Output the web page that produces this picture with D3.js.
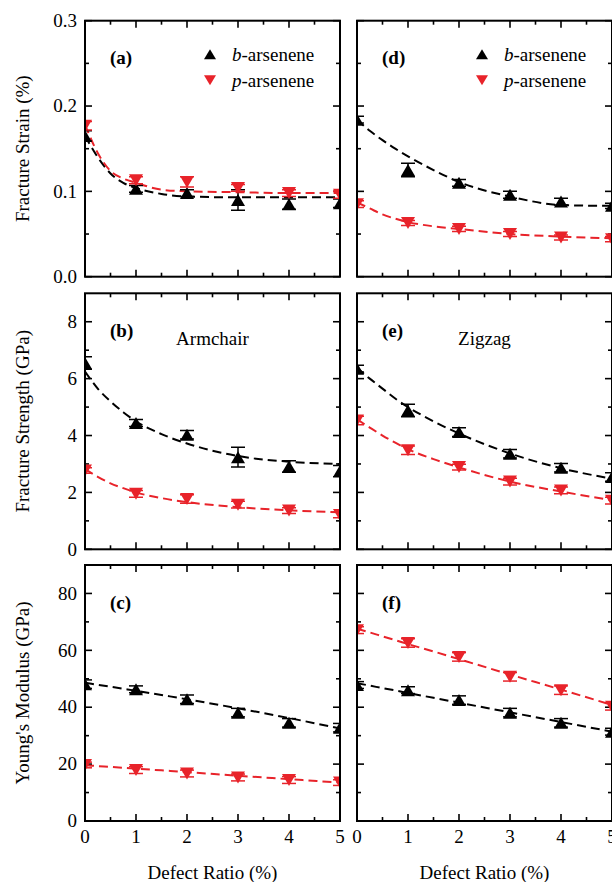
<!DOCTYPE html>
<html>
<head>
<meta charset="utf-8">
<script src="https://cdn.jsdelivr.net/npm/d3@7"></script>
<style>
  body { margin: 0; background: #fff; }
  svg { display: block; font-family: "Liberation Serif", "Times New Roman", serif; }
</style>
</head>
<body>
<div id="chart"></div>
<script>
// ---- data ----
const defectRatio = [0, 1, 2, 3, 4, 5];
const fitRatio = [0, 0.25, 0.5, 0.75, 1, 1.5, 2, 3, 4, 5];

// (a) fracture strain, armchair
const strainArmB = [0.165, 0.103, 0.098, 0.090, 0.085, 0.086];
const strainArmBErr = [0.006, 0.004, 0.004, 0.012, 0.006, 0.005];
const strainArmP = [0.177, 0.113, 0.111, 0.104, 0.098, 0.096];
const strainArmPErr = [0.005, 0.004, 0.006, 0.004, 0.004, 0.004];
const strainArmBFit = [0.165, 0.140, 0.121, 0.110, 0.104, 0.097, 0.094, 0.093, 0.093, 0.093];
const strainArmPFit = [0.178, 0.145, 0.124, 0.115, 0.110, 0.102, 0.100, 0.099, 0.098, 0.098];

// (d) fracture strain, zigzag
const strainZigB = [0.184, 0.125, 0.110, 0.096, 0.088, 0.083];
const strainZigBErr = [0.004, 0.008, 0.004, 0.004, 0.004, 0.003];
const strainZigP = [0.085, 0.063, 0.056, 0.050, 0.046, 0.044];
const strainZigPErr = [0.004, 0.003, 0.003, 0.003, 0.003, 0.003];
const strainZigBFit = [0.184, 0.171, 0.160, 0.150, 0.141, 0.125, 0.111, 0.094, 0.084, 0.083];
const strainZigPFit = [0.087, 0.080, 0.073, 0.068, 0.064, 0.059, 0.056, 0.050, 0.047, 0.045];

// (b) fracture strength, armchair
const strengthArmB = [6.55, 4.44, 4.03, 3.24, 2.91, 2.75];
const strengthArmBErr = [0.22, 0.12, 0.15, 0.35, 0.2, 0.2];
const strengthArmP = [2.77, 1.95, 1.77, 1.57, 1.36, 1.21];
const strengthArmPErr = [0.1, 0.12, 0.15, 0.12, 0.1, 0.1];
const strengthArmBFit = [6.25, 5.65, 5.2, 4.82, 4.5, 4.05, 3.72, 3.28, 3.08, 3.0];
const strengthArmPFit = [2.82, 2.55, 2.32, 2.15, 2.0, 1.8, 1.66, 1.48, 1.37, 1.3];

// (e) fracture strength, zigzag
const strengthZigB = [6.35, 4.88, 4.12, 3.36, 2.87, 2.54];
const strengthZigBErr = [0.12, 0.22, 0.15, 0.15, 0.15, 0.15];
const strengthZigP = [4.53, 3.48, 2.89, 2.38, 2.07, 1.71];
const strengthZigPErr = [0.15, 0.15, 0.1, 0.12, 0.12, 0.12];
const strengthZigBFit = [6.38, 6.0, 5.65, 5.3, 5.0, 4.5, 4.07, 3.37, 2.85, 2.48];
const strengthZigPFit = [4.57, 4.28, 4.0, 3.75, 3.52, 3.17, 2.88, 2.38, 2.03, 1.73];

// (c) Young's modulus, armchair
const modulusArmB = [48.1, 46.3, 42.8, 38.1, 34.5, 32.8];
const modulusArmBErr = [1.5, 1.2, 1.5, 1.5, 1.5, 1.5];
const modulusArmP = [19.7, 17.9, 16.7, 15.3, 14.4, 13.5];
const modulusArmPErr = [1.0, 1.2, 1.2, 1.2, 1.2, 1.0];
const modulusArmBFit = [48.6, 47.9, 47.2, 46.5, 45.8, 44.3, 42.8, 39.6, 36.2, 32.5];
const modulusArmPFit = [19.6, 19.3, 19.0, 18.7, 18.4, 17.8, 17.2, 15.9, 14.7, 13.5];

// (f) Young's modulus, zigzag
const modulusZigB = [47.8, 46.0, 42.5, 38.1, 34.5, 31.4];
const modulusZigBErr = [1.2, 1.2, 1.5, 1.5, 1.5, 1.2];
const modulusZigP = [67.1, 62.6, 57.7, 50.7, 46.0, 40.2];
const modulusZigPErr = [1.2, 1.5, 1.5, 1.5, 1.5, 1.2];
const modulusZigBFit = [48.4, 47.6, 46.7, 45.9, 45.0, 43.3, 41.6, 38.2, 34.8, 31.4];
const modulusZigPFit = [67.6, 66.3, 64.9, 63.6, 62.2, 59.6, 56.9, 51.5, 46.2, 40.8];

const xTicks = [0, 1, 2, 3, 4, 5];
const strainTicks = [0, 0.1, 0.2, 0.3];
const strengthTicks = [0, 2, 4, 6, 8];
const modulusTicks = [0, 20, 40, 60, 80];

const seriesNames = ["b", "p"];

// ---- layout ----
const W = 612, H = 882;
const colX = [85, 357];
const colW = 255;
const rowY = [20.7, 293.3, 565];
const rowH = 256;
const black = "#000", red = "#e8232a";

const rows = [
  { title: "Fracture Strain (%)", domain: [0, 0.3], ticks: strainTicks, minor: 0.05, fmt: d3.format(".1f"),
    panels: [
      { label: "(a)", b: strainArmB, bErr: strainArmBErr, p: strainArmP, pErr: strainArmPErr, bFit: strainArmBFit, pFit: strainArmPFit, legend: true },
      { label: "(d)", b: strainZigB, bErr: strainZigBErr, p: strainZigP, pErr: strainZigPErr, bFit: strainZigBFit, pFit: strainZigPFit, legend: true }
    ] },
  { title: "Fracture Strength (GPa)", domain: [0, 9], ticks: strengthTicks, minor: 1, fmt: d3.format("d"),
    panels: [
      { label: "(b)", note: "Armchair", b: strengthArmB, bErr: strengthArmBErr, p: strengthArmP, pErr: strengthArmPErr, bFit: strengthArmBFit, pFit: strengthArmPFit },
      { label: "(e)", note: "Zigzag", b: strengthZigB, bErr: strengthZigBErr, p: strengthZigP, pErr: strengthZigPErr, bFit: strengthZigBFit, pFit: strengthZigPFit }
    ] },
  { title: "Young's Modulus (GPa)", domain: [0, 90], ticks: modulusTicks, minor: 10, fmt: d3.format("d"),
    panels: [
      { label: "(c)", b: modulusArmB, bErr: modulusArmBErr, p: modulusArmP, pErr: modulusArmPErr, bFit: modulusArmBFit, pFit: modulusArmPFit },
      { label: "(f)", b: modulusZigB, bErr: modulusZigBErr, p: modulusZigP, pErr: modulusZigPErr, bFit: modulusZigBFit, pFit: modulusZigPFit }
    ] }
];

const svg = d3.select("#chart").append("svg")
  .attr("width", W)
  .attr("height", H);

// up / down triangles
function tri(w, h, up) {
  return up
    ? `M0,${-h / 2}L${w / 2},${h / 2}L${-w / 2},${h / 2}Z`
    : `M0,${h / 2}L${w / 2},${-h / 2}L${-w / 2},${-h / 2}Z`;
}

const fontSize = 19;
let clipId = 0;

rows.forEach((row, ri) => {
  const y = d3.scaleLinear().domain(row.domain).range([rowH, 0]);
  const minorTicks = d3.range(row.domain[0], row.domain[1] + 1e-9, row.minor)
    .filter(v => !row.ticks.some(t => Math.abs(t - v) < 1e-9) && v > row.domain[0] && v < row.domain[1]);

  row.panels.forEach((pn, ci) => {
    const x = d3.scaleLinear().domain([0, 5]).range([0, colW]);
    const g = svg.append("g").attr("transform", `translate(${colX[ci]},${rowY[ri]})`);

    const xMinor = d3.range(0.5, 5, 1);

    // ticks (inward on all four sides)
    const tickG = g.append("g").attr("stroke", "#000").attr("stroke-width", 1.6);
    const addTicks = (vals, len) => {
      vals.forEach(v => {
        tickG.append("line").attr("x1", x(v)).attr("x2", x(v)).attr("y1", rowH).attr("y2", rowH - len);
        tickG.append("line").attr("x1", x(v)).attr("x2", x(v)).attr("y1", 0).attr("y2", len);
      });
    };
    addTicks(xTicks, 7);
    addTicks(xMinor, 4);
    const addYTicks = (vals, len) => {
      vals.forEach(v => {
        tickG.append("line").attr("x1", 0).attr("x2", len).attr("y1", y(v)).attr("y2", y(v));
        tickG.append("line").attr("x1", colW).attr("x2", colW - len).attr("y1", y(v)).attr("y2", y(v));
      });
    };
    addYTicks(row.ticks, 7);
    addYTicks(minorTicks, 4);

    // y tick labels, left column only
    if (ci === 0) {
      g.append("g").selectAll("text")
        .data(row.ticks)
        .join("text")
        .attr("x", -8)
        .attr("y", d => y(d))
        .attr("dy", "0.33em")
        .attr("text-anchor", "end")
        .style("font-size", fontSize + "px")
        .text(row.fmt);

      g.append("text")
        .attr("transform", `translate(${29 - colX[0]},${rowH / 2}) rotate(-90)`)
        .attr("text-anchor", "middle")
        .style("font-size", fontSize + "px")
        .text(row.title);
    }

    // x tick labels, bottom row only
    if (ri === rows.length - 1) {
      g.append("g").selectAll("text")
        .data(xTicks)
        .join("text")
        .attr("x", d => x(d))
        .attr("y", rowH + 22)
        .attr("text-anchor", "middle")
        .style("font-size", fontSize + "px")
        .text(d => d);

      g.append("text")
        .attr("x", colW / 2)
        .attr("y", rowH + 58)
        .attr("text-anchor", "middle")
        .style("font-size", fontSize + "px")
        .text("Defect Ratio (%)");
    }

    // clip to the plot area
    const cid = "clip" + (clipId++);
    g.append("clipPath").attr("id", cid)
      .append("rect").attr("width", colW).attr("height", rowH);
    const plot = g.append("g").attr("clip-path", `url(#${cid})`);

    const line = d3.line()
      .x((d, i) => x(fitRatio[i]))
      .y(d => y(d))
      .curve(d3.curveMonotoneX);

    const series = [
      { vals: pn.b, err: pn.bErr, fit: pn.bFit, color: black, up: true },
      { vals: pn.p, err: pn.pErr, fit: pn.pFit, color: red, up: false }
    ];

    series.forEach(s => {
      plot.append("path")
        .datum(s.fit)
        .attr("d", line)
        .attr("fill", "none")
        .attr("stroke", s.color)
        .attr("stroke-width", 2)
        .attr("stroke-dasharray", "9,5");
    });

    series.forEach(s => {
      const eb = plot.append("g").attr("stroke", s.color).attr("stroke-width", 1.5);
      s.vals.forEach((v, i) => {
        const cx = x(defectRatio[i]);
        const y1 = y(v - s.err[i]), y2 = y(v + s.err[i]);
        eb.append("line").attr("x1", cx).attr("x2", cx).attr("y1", y1).attr("y2", y2);
        eb.append("line").attr("x1", cx - 7).attr("x2", cx + 7).attr("y1", y1).attr("y2", y1);
        eb.append("line").attr("x1", cx - 7).attr("x2", cx + 7).attr("y1", y2).attr("y2", y2);
      });
      plot.append("g").selectAll("path")
        .data(s.vals)
        .join("path")
        .attr("transform", (d, i) => `translate(${x(defectRatio[i])},${y(d)})`)
        .attr("d", tri(14, 12, s.up))
        .attr("fill", s.color);
    });

    // frame
    g.append("rect")
      .attr("width", colW)
      .attr("height", rowH)
      .attr("fill", "none")
      .attr("stroke", "#000")
      .attr("stroke-width", 2);

    // panel label
    g.append("text")
      .attr("x", 25)
      .attr("y", 43.5)
      .style("font-size", fontSize + "px")
      .style("font-weight", "bold")
      .text(pn.label);

    if (pn.note) {
      g.append("text")
        .attr("x", colW / 2)
        .attr("y", 52)
        .attr("text-anchor", "middle")
        .style("font-size", fontSize + "px")
        .text(pn.note);
    }

    if (pn.legend) {
      seriesNames.forEach((nm, k) => {
        const ly = 33.5 + k * 26;
        g.append("path")
          .attr("transform", `translate(125,${ly})`)
          .attr("d", tri(12, 10, k === 0))
          .attr("fill", k === 0 ? black : red);
        const t = g.append("text")
          .attr("x", 147)
          .attr("y", ly + 6.5)
          .style("font-size", fontSize + "px");
        t.append("tspan").style("font-style", "italic").text(nm);
        t.append("tspan").text("-arsenene");
      });
    }
  });
});
</script>
</body>
</html>
